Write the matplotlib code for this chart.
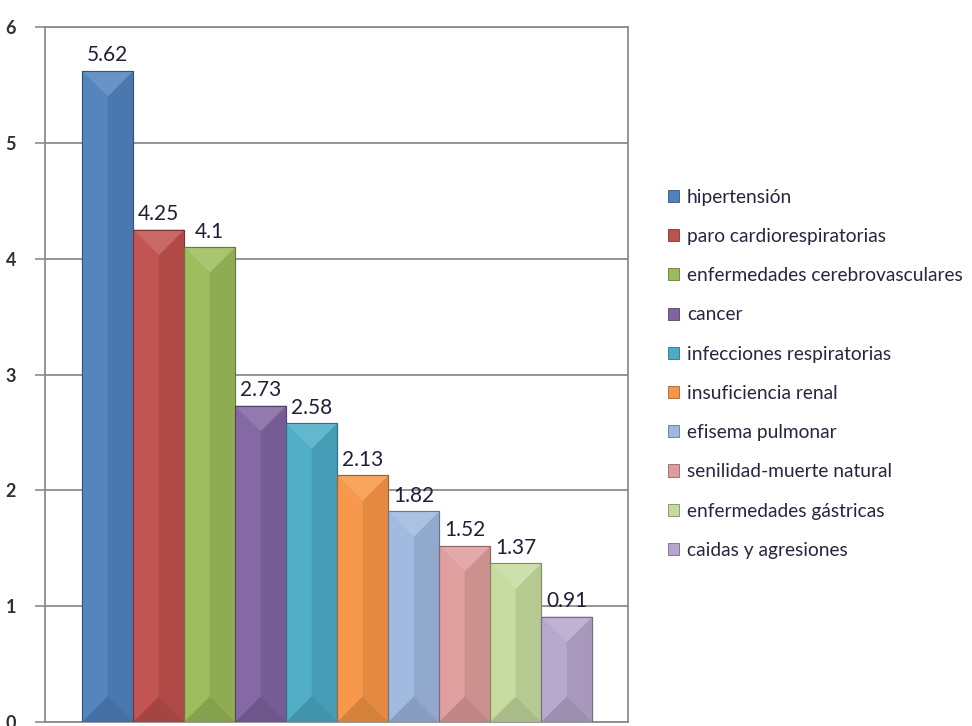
import matplotlib
matplotlib.use("Agg")
import matplotlib.pyplot as plt
from matplotlib.patches import Polygon, Patch
from matplotlib.colors import to_rgb
import numpy as np

categories = ["hipertensión", "paro cardiorespiratorias", "enfermedades cerebrovasculares",
              "cancer", "infecciones respiratorias", "insuficiencia renal", "efisema pulmonar",
              "senilidad-muerte natural", "enfermedades gástricas", "caidas y agresiones"]
values = [5.62, 4.25, 4.1, 2.73, 2.58, 2.13, 1.82, 1.52, 1.37, 0.91]
colors = ["#4F81BD", "#C0504D", "#9BBB59", "#8064A2", "#4BACC6", "#F79646",
          "#9DB8DF", "#DE9C9B", "#C5DA9E", "#B5A5CC"]
yticks = [0, 1, 2, 3, 4, 5, 6]

FONT = ["Lato", "DejaVu Sans"]
plt.rcParams['font.family'] = FONT

fig = plt.figure(figsize=(9.72, 7.26), dpi=100)
ax = fig.add_axes([45/972, 4/726, (628-45)/972, (722-27)/726])

def shade(c, f):
    r = np.array(to_rgb(c))
    if f >= 0:
        return tuple(r + (1 - r) * f)
    return tuple(r * (1 + f))

x = np.arange(len(values))
bars = []
for i, (v, c, lab) in enumerate(zip(values, colors, categories)):
    b = ax.bar(x[i], v, width=1.0, color=c, label=lab, zorder=3,
               edgecolor=shade(c, -0.3), linewidth=0.8)
    bars.append(b[0])

ax.set_xlim(-1.23, 10.2)
ax.set_ylim(0, 6)
ax.set_yticks(yticks)
ax.set_yticklabels([str(t) for t in yticks], fontsize=13, fontweight='bold', color='#303030')
ax.set_xticks([])
ax.tick_params(axis='y', length=7, width=1.2, color='#8c8c8c', pad=14)
ax.grid(axis='y', color='#8c8c8c', linewidth=1.3, zorder=0)
for s in ax.spines.values():
    s.set_color('#8c8c8c')
    s.set_linewidth(1.3)

# bevel overlays derived from the bar geometry
fig.canvas.draw()
p0 = ax.transData.transform((0, 0))
p1 = ax.transData.transform((1, 1))
px_x = p1[0] - p0[0]
px_y = p1[1] - p0[1]
for b, c in zip(bars, colors):
    x0 = b.get_x(); w = b.get_width(); h = b.get_height()
    xm = x0 + w / 2; x1 = x0 + w
    d = (w / 2) * px_x / px_y
    d = min(d, h / 2)
    left = [(x0, 0), (xm, d), (xm, h - d), (x0, h)]
    right = [(x1, 0), (xm, d), (xm, h - d), (x1, h)]
    top = [(x0, h), (x1, h), (xm, h - d)]
    bot = [(x0, 0), (x1, 0), (xm, d)]
    ax.add_patch(Polygon(left, closed=True, facecolor=shade(c, 0.03), edgecolor='none', zorder=4))
    ax.add_patch(Polygon(right, closed=True, facecolor=shade(c, -0.08), edgecolor='none', zorder=4))
    ax.add_patch(Polygon(top, closed=True, facecolor=shade(c, 0.14), edgecolor='none', zorder=4))
    ax.add_patch(Polygon(bot, closed=True, facecolor=shade(c, -0.14), edgecolor='none', zorder=4))
    ax.add_patch(Polygon([(x0, 0), (x1, 0), (x1, h), (x0, h)], closed=True, facecolor='none',
                         edgecolor=shade(c, -0.35), linewidth=0.8, zorder=5))
    ax.annotate(f"{b.get_height():g}", (xm, h), xytext=(0, 4), textcoords='offset points',
                ha='center', va='bottom', fontsize=15, color='#1f1f3a', zorder=6)

handles = [Patch(facecolor=c, edgecolor=shade(c, -0.35), linewidth=0.6) for c in colors]
leg = fig.legend(handles, categories, loc='upper left', bbox_to_anchor=(660/972, 1 - 181/726),
                 frameon=False, fontsize=13.8, handlelength=0.6, handleheight=0.6,
                 handletextpad=0.4, labelspacing=1.16, borderaxespad=0)
for t in leg.get_texts():
    t.set_color('#262640')

fig.savefig("out.png", dpi=100)
